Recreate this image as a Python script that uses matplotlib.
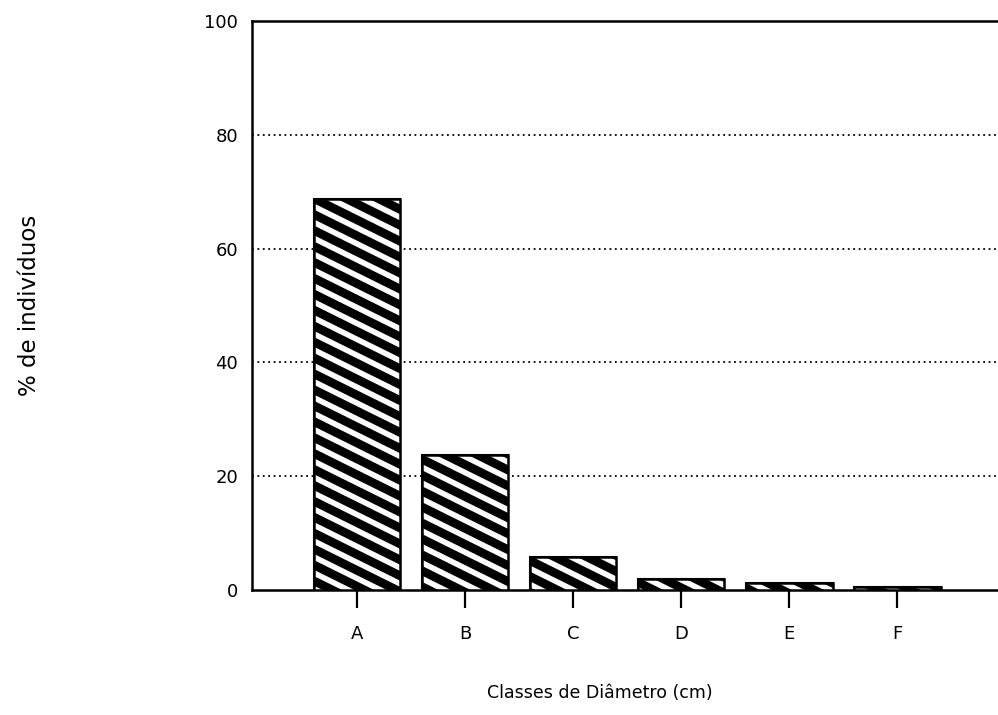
import numpy as np
import matplotlib
matplotlib.use("Agg")
import matplotlib.pyplot as plt
from matplotlib.collections import LineCollection

classes = ['A', 'B', 'C', 'D', 'E', 'F']
percent = [68.7, 23.7, 5.8, 2.0, 1.3, 0.6]
yticks = [0, 20, 40, 60, 80, 100]

fig = plt.figure(figsize=(9.98, 7.15), dpi=100)
ax = fig.add_axes([0.2525, 0.1748, 0.7475, 0.7958])

x = np.arange(len(classes))
bars = ax.bar(x, percent, width=0.8, color='black', edgecolor='black',
              linewidth=1.5, zorder=2)

# white diagonal stripes (shallow slope, like the scanned hatch)
slope = -0.65
step = 0.028
segs = []
for c in np.arange(0, 1 - slope + step, step):
    segs.append([(0, c), (1, c + slope)])
for b in bars:
    lc = LineCollection(segs, colors='white', linewidths=4.0,
                        transform=ax.transAxes, zorder=3)
    ax.add_collection(lc, autolim=False)
    lc.set_clip_path(b)
    ax.add_patch(plt.Rectangle(b.get_xy(), b.get_width(), b.get_height(),
                               fill=False, edgecolor='black', linewidth=1.8,
                               zorder=4))

ax.set_xlim(-0.97, 5.93)
ax.set_ylim(0, 100)
ax.set_yticks(yticks)
ax.set_xticks(x)
ax.set_xticklabels(classes)

for v in yticks[1:-1]:
    ax.axhline(v, color='black', linestyle=(0, (1, 2)), linewidth=1.3, zorder=1)

ax.spines['right'].set_visible(False)
for s in ['left', 'top', 'bottom']:
    ax.spines[s].set_linewidth(1.8)

ax.tick_params(axis='y', length=0, pad=10, labelsize=13)
ax.tick_params(axis='x', direction='out', length=13, width=1.6, pad=12, labelsize=13)

ax.set_xlabel('Classes de Diâmetro (cm)', fontsize=12.5)
ax.xaxis.set_label_coords(0.466, -0.166)
fig.text(0.03, 0.573, '% de indivíduos', rotation=90, fontsize=16.5,
         ha='center', va='center')

fig.savefig('out.png', dpi=100)
